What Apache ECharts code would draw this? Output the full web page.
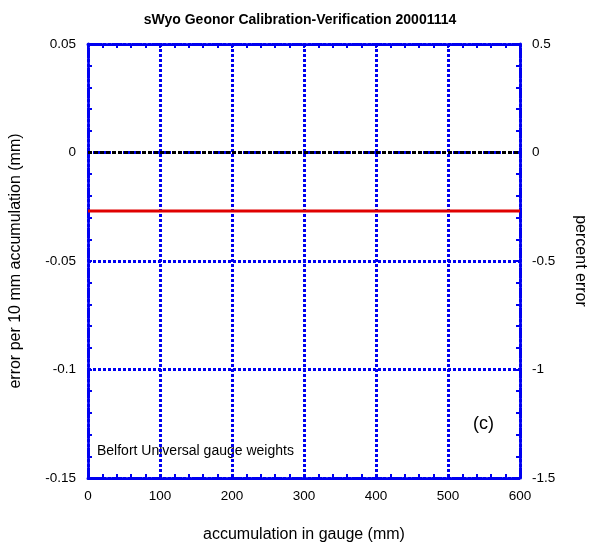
<!DOCTYPE html>
<html>
<head>
<meta charset="utf-8">
<script src="https://cdn.jsdelivr.net/npm/echarts@6/dist/echarts.min.js"></script>
<style>
  html, body { margin: 0; padding: 0; background: #fff; }
  #chart { width: 600px; height: 548px; }
</style>
</head>
<body>
<div id="chart"></div>
<script>
// Calibration check: error per 10 mm accumulation vs. accumulation in gauge
const accumulation = [0, 100, 200, 300, 400, 500, 600];
const zeroRef = [0, 0, 0, 0, 0, 0, 0];
const errorPer10mm = [-0.027, -0.027, -0.027, -0.027, -0.027, -0.027, -0.027];

const leftTicks = [-0.15, -0.1, -0.05, 0, 0.05];
const rightTicks = [-1.5, -1, -0.5, 0, 0.5];
const xTicks = [0, 100, 200, 300, 400, 500, 600];

const BLUE = '#0000f0';
const FONT = 'Liberation Sans, Arial, sans-serif';

function pairs(xs, ys) { return xs.map((x, i) => [x, ys[i]]); }
function fmt(v) { return String(parseFloat(v.toFixed(4))); }

const dotted = { color: BLUE, width: 3, type: [3, 2] };
const frameLine = { color: BLUE, width: 3, type: [2, 2] };
const tickStyle = { color: BLUE, width: 2 };

function frameAxis(extra) {
  return Object.assign({
    type: 'value',
    axisLine: { show: true, onZero: false, lineStyle: frameLine },
    axisTick: { show: true, inside: true, length: 4, lineStyle: tickStyle },
    minorTick: { show: true, splitNumber: 5, length: 4, lineStyle: tickStyle }
  }, extra);
}

const chart = echarts.init(document.getElementById('chart'));
chart.setOption({
  animation: false,
  title: {
    text: 'sWyo Geonor Calibration-Verification 20001114',
    left: 'center', top: 8,
    textStyle: { fontFamily: FONT, fontSize: 14, fontWeight: 'bold', color: '#000' }
  },
  grid: { left: 86, right: 80, top: 44, bottom: 66 },
  xAxis: [frameAxis({
    min: xTicks[0], max: xTicks[xTicks.length - 1], interval: 100,
    position: 'bottom',
    name: 'accumulation in gauge (mm)', nameLocation: 'middle', nameGap: 49,
    nameTextStyle: { fontFamily: FONT, fontSize: 16, color: '#000' },
    axisLabel: { fontFamily: FONT, fontSize: 13.5, color: '#000', margin: 11 },
    splitLine: { show: true, lineStyle: dotted }
  }), frameAxis({
    min: xTicks[0], max: xTicks[xTicks.length - 1], interval: 100,
    position: 'top',
    axisLabel: { show: false },
    splitLine: { show: false }
  })],
  yAxis: [frameAxis({
    min: leftTicks[0], max: leftTicks[leftTicks.length - 1], interval: 0.05,
    position: 'left',
    name: 'error per 10 mm accumulation (mm)', nameLocation: 'middle', nameGap: 64,
    nameTextStyle: { fontFamily: FONT, fontSize: 16, color: '#000' },
    axisLabel: { fontFamily: FONT, fontSize: 13.5, color: '#000', margin: 12, formatter: fmt },
    splitLine: { show: true, lineStyle: dotted }
  }), frameAxis({
    min: rightTicks[0], max: rightTicks[rightTicks.length - 1], interval: 0.5,
    position: 'right',
    name: 'percent error', nameLocation: 'middle', nameGap: 52, nameRotate: -90,
    nameTextStyle: { fontFamily: FONT, fontSize: 16, color: '#000' },
    axisLabel: { fontFamily: FONT, fontSize: 13.5, color: '#000', margin: 12, formatter: fmt },
    splitLine: { show: false }
  })],
  series: [{
    type: 'line',
    data: pairs(accumulation, zeroRef),
    symbol: 'none',
    lineStyle: { color: '#000', width: 3, type: [4, 2] },
    z: 5
  }, {
    type: 'line',
    data: pairs(accumulation, errorPer10mm),
    symbol: 'none',
    lineStyle: { color: '#e00000', width: 3 },
    z: 6
  }],
  graphic: [{
    type: 'text', left: 97, top: 444,
    style: { text: 'Belfort Universal gauge weights', fontFamily: FONT, fontSize: 14, fill: '#000' }
  }, {
    type: 'text', left: 473, top: 415,
    style: { text: '(c)', fontFamily: FONT, fontSize: 18, fill: '#000' }
  }]
});
</script>
</body>
</html>
